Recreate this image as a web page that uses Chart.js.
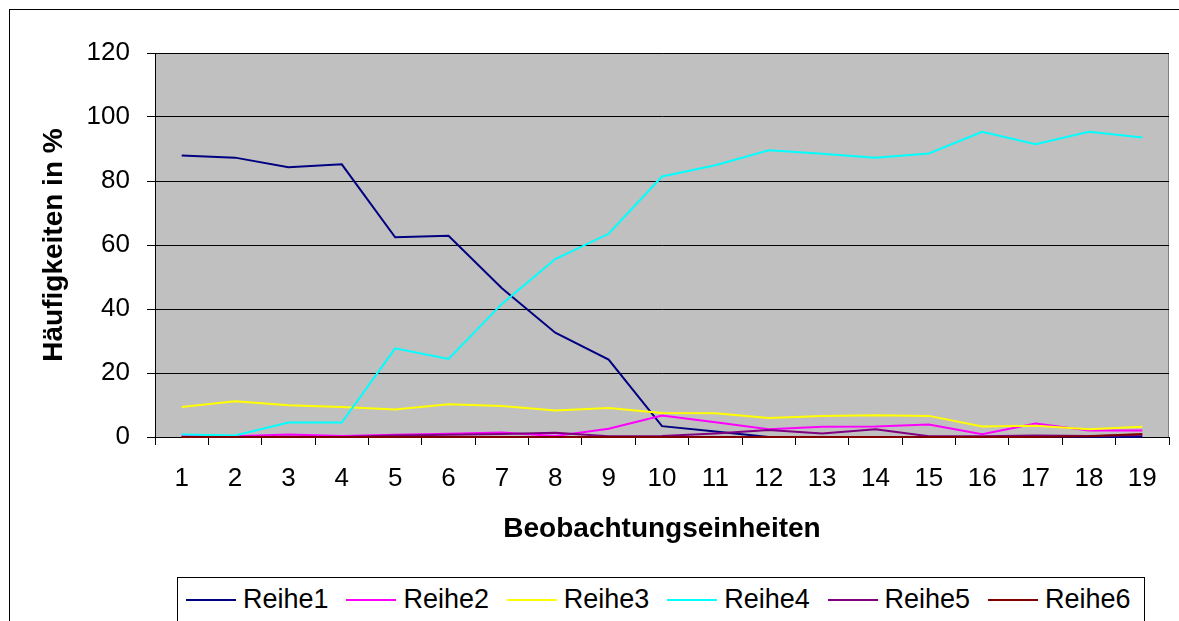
<!DOCTYPE html>
<html>
<head>
<meta charset="utf-8">
<script src="https://cdn.jsdelivr.net/npm/chart.js@4/dist/chart.umd.min.js"></script>
<style>
  html, body { margin: 0; padding: 0; background: #fff; overflow: hidden; }
  #wrap { position: relative; width: 1179px; height: 621px; overflow: hidden; }
  #frame { position: absolute; left: 9px; top: 9px; width: 1300px; height: 800px; border: 1px solid #000; }
  #chart { position: absolute; left: 0; top: 0; }
  #legend {
    position: absolute; left: 177px; top: 577px; width: 968px; height: 80px;
    border: 1px solid #000; background: #fff;
    font-family: "Liberation Sans", Arial, sans-serif; font-size: 27px; color: #000;
    padding: 5px 0 0 8px; box-sizing: border-box; white-space: nowrap;
  }
  .item { display: inline-block; width: 160.4px; line-height: 32px; vertical-align: top; }
  .item i { display: inline-block; width: 50px; height: 2px; vertical-align: middle; margin-right: 7px; position: relative; top: -1px; }
</style>
</head>
<body>
<div id="wrap">
  <div id="frame"></div>
  <canvas id="chart" width="1179" height="621"></canvas>
  <div id="legend"></div>
</div>
<script>
const labels = ["1","2","3","4","5","6","7","8","9","10","11","12","13","14","15","16","17","18","19"];
const yTicks = [0, 20, 40, 60, 80, 100, 120];

const reihe1 = [88, 87.3, 84.3, 85.2, 62.4, 62.9, 46.5, 32.6, 24.2, 3.4, 1.7, 0, 0, 0, 0, 0, 0, 0, 0];
const reihe2 = [0.3, 0.2, 0.8, 0.3, 0.7, 1.0, 1.4, 0.3, 2.6, 6.7, 4.6, 2.4, 3.2, 3.3, 3.9, 0.9, 4.2, 2.0, 2.0];
const reihe3 = [9.4, 11.2, 9.9, 9.4, 8.6, 10.2, 9.7, 8.3, 9.1, 7.5, 7.4, 5.9, 6.6, 6.8, 6.6, 3.3, 3.5, 2.4, 3.2];
const reihe4 = [0.8, 0.5, 4.5, 4.5, 27.7, 24.4, 41.6, 55.6, 63.5, 81.4, 84.9, 89.6, 88.5, 87.3, 88.6, 95.4, 91.5, 95.4, 93.6];
const reihe5 = [0, 0, 0.1, 0, 0.5, 0.7, 0.9, 1.3, 0.2, 0.3, 1.1, 2.2, 1.1, 2.4, 0.2, 0.2, 0.5, 0.3, 0.6];
const reihe6 = [0, 0, 0, 0, 0, 0, 0, 0, 0, 0, 0, 0, 0, 0, 0, 0, 0, 0.2, 0.9];

const seriesNames = ["Reihe1", "Reihe2", "Reihe3", "Reihe4", "Reihe5", "Reihe6"];
const seriesColors = ["#000080", "#FF00FF", "#FFFF00", "#00FFFF", "#800080", "#800000"];
const seriesData = [reihe1, reihe2, reihe3, reihe4, reihe5, reihe6];

const FONT = "'Liberation Sans', Arial, sans-serif";

// grey plot area like the old Excel charts
const plotBg = {
  id: "plotBg",
  beforeDraw(chart) {
    const { ctx, chartArea: a } = chart;
    ctx.save();
    ctx.fillStyle = "#C0C0C0";
    ctx.fillRect(a.left, a.top, a.right - a.left, a.bottom - a.top);
    ctx.strokeStyle = "#808080";
    ctx.lineWidth = 1;
    ctx.strokeRect(a.left + 0.5, a.top + 0.5, a.right - a.left - 1, a.bottom - a.top);
    ctx.restore();
  }
};

new Chart(document.getElementById("chart"), {
  type: "line",
  data: {
    labels: labels,
    datasets: seriesData.map((d, i) => ({
      label: seriesNames[i],
      data: d,
      borderColor: seriesColors[i],
      backgroundColor: seriesColors[i],
      borderWidth: 2,
      pointRadius: 0,
      tension: 0,
      clip: false,
      order: 6 - i
    }))
  },
  options: {
    responsive: false,
    animation: false,
    layout: { padding: { left: 37, top: 53, right: 10, bottom: 75 } },
    plugins: { legend: { display: false }, tooltip: { enabled: false } },
    scales: {
      x: {
        offset: true,
        grid: { offset: true, drawOnChartArea: false, drawTicks: true, tickLength: 8, color: "#000" },
        border: { color: "#000", width: 1 },
        ticks: { color: "#000", font: { family: FONT, size: 26 }, padding: 18, maxRotation: 0, autoSkip: false },
        title: { display: true, text: "Beobachtungseinheiten", color: "#000", font: { family: FONT, size: 28, weight: "bold" }, padding: 0 },
        afterFit(s) { s.height = 109; }
      },
      y: {
        min: 0, max: 120,
        afterBuildTicks(s) { s.ticks = yTicks.map(v => ({ value: v })); },
        grid: { color: "#000", tickLength: 8, drawTicks: true },
        border: { color: "#000", width: 1 },
        ticks: { color: "#000", font: { family: FONT, size: 26 }, padding: 17 },
        title: { display: true, text: "Häufigkeiten in %", color: "#000", font: { family: FONT, size: 28, weight: "bold" }, padding: 0 },
        afterFit(s) { s.width = 118; }
      }
    }
  },
  plugins: [plotBg]
});

const legend = document.getElementById("legend");
legend.innerHTML = seriesNames.map((n, i) =>
  `<span class="item"><i style="background:${seriesColors[i]}"></i>${n}</span>`).join("");
</script>
</body>
</html>
